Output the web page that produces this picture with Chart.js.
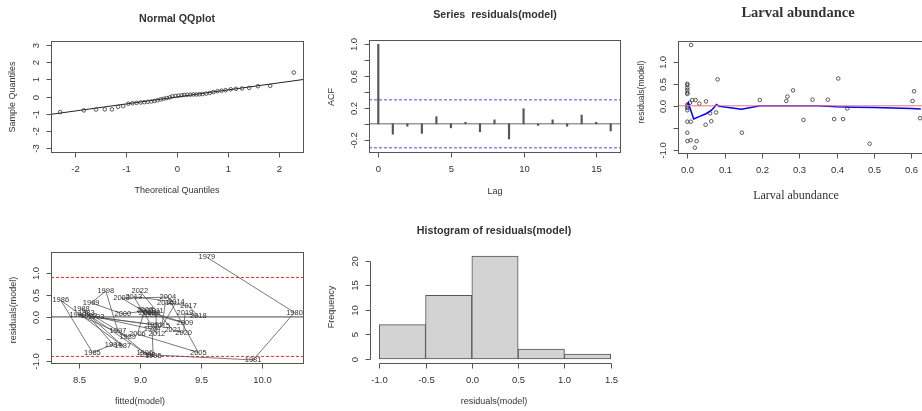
<!DOCTYPE html>
<html>
<head>
<meta charset="utf-8">
<title>Model diagnostics</title>
<script src="https://cdn.jsdelivr.net/npm/chart.js@4.4.1/dist/chart.umd.min.js"></script>
<style>
  body { margin: 0; background: #fff; }
  #wrap { position: relative; width: 922px; height: 411px; overflow: hidden; background: #fff; }
  canvas { position: absolute; left: 0; top: 0; }
</style>
</head>
<body>
<div id="wrap">
  <canvas id="qqCanvas" width="922" height="411"></canvas>
  <canvas id="acfCanvas" width="922" height="411"></canvas>
  <canvas id="larvalCanvas" width="950" height="411"></canvas>
  <canvas id="fittedCanvas" width="922" height="411"></canvas>
  <canvas id="histCanvas" width="922" height="411"></canvas>
</div>
<script>
// ---------- data ----------

// Normal QQ plot
const qqTheoretical = [-2.28, -1.82, -1.58, -1.41, -1.27, -1.15, -1.05, -0.95, -0.87, -0.79, -0.71,
  -0.64, -0.57, -0.50, -0.44, -0.38, -0.32, -0.26, -0.20, -0.14, -0.09, -0.03, 0.03, 0.09, 0.14,
  0.20, 0.26, 0.32, 0.38, 0.44, 0.50, 0.57, 0.64, 0.71, 0.79, 0.87, 0.95, 1.05, 1.15, 1.27, 1.41,
  1.58, 1.82, 2.28];
const qqSample = [-0.91, -0.81, -0.76, -0.75, -0.75, -0.60, -0.56, -0.42, -0.39, -0.37, -0.35,
  -0.33, -0.31, -0.29, -0.26, -0.22, -0.17, -0.13, -0.09, -0.05, 0.01, 0.03, 0.05, 0.07, 0.09,
  0.10, 0.11, 0.12, 0.12, 0.13, 0.14, 0.17, 0.21, 0.26, 0.31, 0.34, 0.37, 0.42, 0.45, 0.47, 0.50,
  0.60, 0.62, 1.40];
const qqLineX = [-2.46, 2.46];
const qqLineY = [-1.04, 0.99];

// ACF of residuals
const acfLags = [0, 1, 2, 3, 4, 5, 6, 7, 8, 9, 10, 11, 12, 13, 14, 15, 16];
const acfValues = [1.0, -0.13, -0.03, -0.12, 0.09, -0.05, 0.02, -0.10, 0.05, -0.19, 0.19, -0.02,
  0.05, -0.03, 0.11, 0.02, -0.09];
const acfBound = 0.3015;

// residuals against larval abundance
const larvalAbundance = [0, 0, 0, 0, 0, 0, 0, 0, 0, 0, 0, 0, 0,
  0.009, 0.009, 0.025, 0.020, 0.010, 0.013, 0.022, 0.007, 0.032, 0.050, 0.049, 0.061, 0.064,
  0.077, 0.081, 0.146, 0.194, 0.265, 0.268, 0.283, 0.311, 0.335, 0.376, 0.393, 0.404, 0.417,
  0.428, 0.488, 0.603, 0.607, 0.623];
const larvalResiduals = [0.50, 0.47, 0.41, 0.36, 0.30, 0.27, 0.03, -0.01, -0.05, -0.10, -0.36,
  -0.61, -0.80, -0.36, -0.78, -0.80, -0.95, 1.38, 0.13, 0.13, 0.07, 0.05, 0.10, -0.43, -0.17,
  -0.35, -0.15, 0.60, -0.61, 0.13, 0.11, 0.21, 0.35, -0.32, 0.14, 0.14, -0.30, 0.62, -0.30,
  -0.06, -0.86, 0.11, 0.33, -0.28];
const smoothX = [0, 0.003, 0.006, 0.017, 0.030, 0.050, 0.065, 0.078, 0.085, 0.145, 0.195, 0.25,
  0.30, 0.35, 0.40, 0.45, 0.50, 0.55, 0.60, 0.625];
const smoothY = [0.03, 0.07, -0.02, -0.30, -0.25, -0.18, -0.10, 0.03, -0.01, -0.08, 0.00, 0.00,
  0.00, 0.00, -0.02, -0.03, -0.04, -0.05, -0.06, -0.07];

// residuals against fitted values, by year
const years = [1979, 1980, 1981, 1982, 1983, 1984, 1985, 1986, 1987, 1988, 1989, 1990, 1991,
  1992, 1993, 1994, 1995, 1996, 1997, 1998, 1999, 2000, 2001, 2002, 2003, 2004, 2005, 2006, 2007,
  2008, 2009, 2010, 2011, 2012, 2013, 2014, 2015, 2016, 2017, 2018, 2019, 2020, 2021, 2022];
const fittedValues = [9.55, 10.27, 9.93, 9.06, 8.56, 8.78, 8.61, 8.35, 8.86, 8.52, 8.90, 8.49,
  9.12, 8.58, 8.64, 9.10, 9.11, 9.04, 8.82, 8.72, 8.60, 8.86, 9.05, 9.08, 8.85, 9.23, 9.48, 8.98,
  9.04, 9.10, 9.37, 9.06, 9.13, 9.14, 8.95, 9.30, 9.18, 9.21, 9.40, 9.48, 9.37, 9.36, 9.27, 9.00];
const fittedResiduals = [1.36, 0.10, -0.98, -0.86, 0.08, -0.63, -0.81, 0.38, -0.66, 0.19, -0.45,
  0.05, -0.18, 0.02, 0.00, -0.28, -0.89, -0.82, -0.32, 0.59, 0.32, 0.07, 0.14, 0.05, 0.43, 0.45,
  -0.81, -0.39, 0.16, 0.10, -0.14, 0.09, 0.13, -0.39, 0.46, 0.34, -0.21, 0.32, 0.25, 0.02, 0.08,
  -0.36, -0.30, 0.59];
const residualBand = 0.9;

// histogram of residuals
const histBreaks = [-1, -0.5, 0, 0.5, 1, 1.5];
const histCounts = [7, 13, 21, 2, 1];

// tick values and their printed labels ('' = tick without label)
const qqXTicks = [-2, -1, 0, 1, 2];
const qqXLabels = ["-2", "-1", "0", "1", "2"];
const qqYTicks = [-3, -2, -1, 0, 1, 2, 3];
const qqYLabels = ["-3", "-2", "-1", "0", "1", "2", "3"];
const acfXTicks = [0, 5, 10, 15];
const acfXLabels = ["0", "5", "10", "15"];
const acfYTicks = [-0.2, 0, 0.2, 0.4, 0.6, 0.8, 1.0];
const acfYLabels = ["-0.2", "", "0.2", "", "0.6", "", "1.0"];
const larvalXTicks = [0, 0.1, 0.2, 0.3, 0.4, 0.5, 0.6];
const larvalXLabels = ["0.0", "0.1", "0.2", "0.3", "0.4", "0.5", "0.6"];
const residYTicks = [-1, -0.5, 0, 0.5, 1];
const residYLabels = ["-1.0", "", "0.0", "0.5", "1.0"];
const fittedXTicks = [8.5, 9.0, 9.5, 10.0];
const fittedXLabels = ["8.5", "9.0", "9.5", "10.0"];
const histXTicks = [-1, -0.5, 0, 0.5, 1, 1.5];
const histXLabels = ["-1.0", "-0.5", "0.0", "0.5", "1.0", "1.5"];
const histYTicks = [0, 5, 10, 15, 20];
const histYLabels = ["0", "5", "10", "15", "20"];

// ---------- drawing helpers ----------
const SANS = "'Liberation Sans', Arial, sans-serif";
const SERIF = "'Liberation Serif', 'Times New Roman', serif";
const AXIS_COLOR = "#555";
const TEXT_COLOR = "#333";
const TICK_FONT = "9.5px " + SANS;
const LAB_FONT = "9px " + SANS;
const MAIN_FONT = "bold 10.7px " + SANS;

const pts = (xs, ys) => xs.map((x, i) => ({ x: x, y: ys[i] }));

function drawText(ctx, t) {
  ctx.save();
  ctx.font = t.font;
  ctx.fillStyle = TEXT_COLOR;
  ctx.textAlign = "center";
  ctx.textBaseline = "middle";
  ctx.translate(t.x, t.y);
  if (t.rotate) ctx.rotate(-Math.PI / 2);
  ctx.fillText(t.text, 0, 0);
  ctx.restore();
}

// R-like axes: box, axis line between first and last tick, outward ticks, rotated y labels
function rAxes(cfg) {
  return {
    id: "rAxes",
    afterDraw(chart) {
      const ctx = chart.ctx;
      const a = chart.chartArea;
      const sx = chart.scales.x;
      const sy = chart.scales.y;
      ctx.save();
      ctx.strokeStyle = AXIS_COLOR;
      ctx.lineWidth = 1;
      if (cfg.drawBox !== false) {
        ctx.strokeRect(Math.round(a.left) + 0.5, Math.round(a.top) + 0.5,
          Math.round(a.right - a.left), Math.round(a.bottom - a.top));
      }
      const yb = Math.round(a.bottom) + 0.5;
      const xl = Math.round(a.left) + 0.5;
      const xs = cfg.xTicks.map(v => Math.round(sx.getPixelForValue(v)) + 0.5);
      const ys = cfg.yTicks.map(v => Math.round(sy.getPixelForValue(v)) + 0.5);
      ctx.beginPath();
      ctx.moveTo(xs[0], yb);
      ctx.lineTo(xs[xs.length - 1], yb);
      xs.forEach(px => { ctx.moveTo(px, yb); ctx.lineTo(px, yb + 5); });
      ctx.moveTo(xl, ys[0]);
      ctx.lineTo(xl, ys[ys.length - 1]);
      ys.forEach(py => { ctx.moveTo(xl, py); ctx.lineTo(xl - 5, py); });
      ctx.stroke();
      const tickFont = cfg.tickFont || TICK_FONT;
      cfg.xLabels.forEach((s, i) => {
        if (s) drawText(ctx, { text: s, x: xs[i], y: a.bottom + 17.5, font: tickFont });
      });
      cfg.yLabels.forEach((s, i) => {
        if (s) drawText(ctx, { text: s, x: a.left - 15, y: ys[i], font: tickFont, rotate: true });
      });
      cfg.texts.forEach(t => drawText(ctx, t));
      ctx.restore();
    }
  };
}

function makePanel(id, cfg) {
  const canvas = document.getElementById(id);
  const w = canvas.width;
  const h = canvas.height;
  return new Chart(canvas, {
    type: cfg.type || "scatter",
    data: { datasets: cfg.datasets },
    options: {
      responsive: false,
      animation: false,
      events: [],
      layout: {
        padding: { left: cfg.box[0], top: cfg.box[1], right: w - cfg.box[2], bottom: h - cfg.box[3] }
      },
      plugins: { legend: { display: false }, tooltip: { enabled: false } },
      scales: {
        x: { type: "linear", display: false, offset: false, min: cfg.xRange[0], max: cfg.xRange[1] },
        y: { type: "linear", display: false, min: cfg.yRange[0], max: cfg.yRange[1] }
      }
    },
    plugins: [rAxes(cfg)].concat(cfg.extraPlugins || [])
  });
}

function hLine(xRange, y, color, width, dash) {
  return {
    type: "line",
    data: [{ x: xRange[0], y: y }, { x: xRange[1], y: y }],
    showLine: true, pointRadius: 0, borderColor: color, borderWidth: width,
    borderDash: dash || [], fill: false, tension: 0
  };
}

function circles(data) {
  return {
    type: "scatter",
    data: data,
    pointRadius: 1.8, pointBorderWidth: 0.8, borderWidth: 0.8,
    borderColor: "#333", pointBorderColor: "#333",
    backgroundColor: "rgba(0,0,0,0)", pointBackgroundColor: "rgba(0,0,0,0)"
  };
}

// ---------- panel 1: Normal QQ plot ----------
const qqXRange = [-2.46, 2.46];
makePanel("qqCanvas", {
  box: [51, 41, 303, 152], xRange: qqXRange, yRange: [-3.24, 3.24],
  xTicks: qqXTicks, xLabels: qqXLabels, yTicks: qqYTicks, yLabels: qqYLabels,
  datasets: [
    circles(pts(qqTheoretical, qqSample)),
    { type: "line", data: pts(qqLineX, qqLineY), pointRadius: 0, borderColor: "#222", borderWidth: 1, tension: 0 }
  ],
  texts: [
    { text: "Normal QQplot", x: 177, y: 19, font: MAIN_FONT },
    { text: "Theoretical Quantiles", x: 177, y: 190.5, font: LAB_FONT },
    { text: "Sample Quantiles", x: 13, y: 97, font: LAB_FONT, rotate: true }
  ]
});

// ---------- panel 2: ACF ----------
const acfXRange = [-0.64, 16.64];
makePanel("acfCanvas", {
  type: "bar",
  box: [369, 40, 620, 152], xRange: acfXRange, yRange: [-0.354, 1.054],
  xTicks: acfXTicks, xLabels: acfXLabels, yTicks: acfYTicks, yLabels: acfYLabels,
  datasets: [
    { type: "bar", data: pts(acfLags, acfValues), backgroundColor: "#555", barThickness: 1.5, borderWidth: 0 },
    hLine(acfXRange, 0, "#666", 1),
    hLine(acfXRange, acfBound, "#4d4dff", 1, [3, 2]),
    hLine(acfXRange, -acfBound, "#4d4dff", 1, [3, 2])
  ],
  texts: [
    { text: "Series  residuals(model)", x: 495, y: 15, font: MAIN_FONT },
    { text: "Lag", x: 495, y: 191.5, font: LAB_FONT },
    { text: "ACF", x: 332, y: 97, font: LAB_FONT, rotate: true }
  ]
});

// ---------- panel 3: residuals vs larval abundance ----------
const larvalXRange = [-0.025, 0.655];
makePanel("larvalCanvas", {
  box: [678, 41, 932, 153], xRange: larvalXRange, yRange: [-1.07, 1.47],
  xTicks: larvalXTicks, xLabels: larvalXLabels, yTicks: residYTicks, yLabels: residYLabels,
  datasets: [
    hLine(larvalXRange, 0, "#f27272", 1),
    { type: "line", data: pts(smoothX, smoothY), pointRadius: 0, borderColor: "#0000ff", borderWidth: 1.5, tension: 0 },
    circles(pts(larvalAbundance, larvalResiduals))
  ],
  texts: [
    { text: "Larval abundance", x: 798, y: 13, font: "bold 14.5px " + SERIF },
    { text: "Larval abundance", x: 796, y: 196, font: "12px " + SERIF },
    { text: "residuals(model)", x: 642, y: 92, font: "8.5px " + SANS, rotate: true }
  ]
});

// ---------- panel 4: residuals vs fitted, labelled by year ----------
const fittedXRange = [8.27, 10.34];
const yearLabels = {
  id: "yearLabels",
  afterDatasetsDraw(chart) {
    const ctx = chart.ctx;
    const a = chart.chartArea;
    const meta = chart.getDatasetMeta(0);
    ctx.save();
    ctx.beginPath();
    ctx.rect(a.left, a.top, a.right - a.left, a.bottom - a.top);
    ctx.clip();
    ctx.font = "7.5px " + SANS;
    ctx.fillStyle = TEXT_COLOR;
    ctx.textAlign = "center";
    ctx.textBaseline = "middle";
    meta.data.forEach((el, i) => ctx.fillText(String(years[i]), el.x, el.y));
    ctx.restore();
  }
};
makePanel("fittedCanvas", {
  box: [51, 252, 303, 363], xRange: fittedXRange, yRange: [-1.05, 1.48],
  xTicks: fittedXTicks, xLabels: fittedXLabels, yTicks: residYTicks, yLabels: residYLabels,
  datasets: [
    { type: "line", data: pts(fittedValues, fittedResiduals), pointRadius: 0, borderColor: "#555", borderWidth: 0.8, tension: 0 },
    hLine(fittedXRange, 0, "#444", 1),
    hLine(fittedXRange, residualBand, "#ee2a2a", 1, [3, 2]),
    hLine(fittedXRange, -residualBand, "#ee2a2a", 1, [3, 2])
  ],
  extraPlugins: [yearLabels],
  texts: [
    { text: "fitted(model)", x: 140, y: 401.5, font: LAB_FONT },
    { text: "residuals(model)", x: 14, y: 310, font: LAB_FONT, rotate: true }
  ]
});

// ---------- panel 5: histogram (no box) ----------
const histMids = histCounts.map((c, i) => (histBreaks[i] + histBreaks[i + 1]) / 2);
makePanel("histCanvas", {
  type: "bar", drawBox: false,
  box: [370, 252, 620, 363], xRange: [-1.1, 1.6], yRange: [-0.84, 21.84],
  xTicks: histXTicks, xLabels: histXLabels, yTicks: histYTicks, yLabels: histYLabels,
  datasets: [{
    type: "bar",
    data: pts(histMids, histCounts),
    backgroundColor: "#d3d3d3",
    borderColor: "#555",
    borderWidth: 1,
    borderSkipped: false,
    barThickness: (c) => {
      const sx = c.chart.scales.x;
      return sx.getPixelForValue(histBreaks[1]) - sx.getPixelForValue(histBreaks[0]);
    }
  }],
  texts: [
    { text: "Histogram of residuals(model)", x: 494, y: 231, font: MAIN_FONT },
    { text: "residuals(model)", x: 494, y: 402, font: LAB_FONT },
    { text: "Frequency", x: 332, y: 307, font: LAB_FONT, rotate: true }
  ]
});
</script>
</body>
</html>
